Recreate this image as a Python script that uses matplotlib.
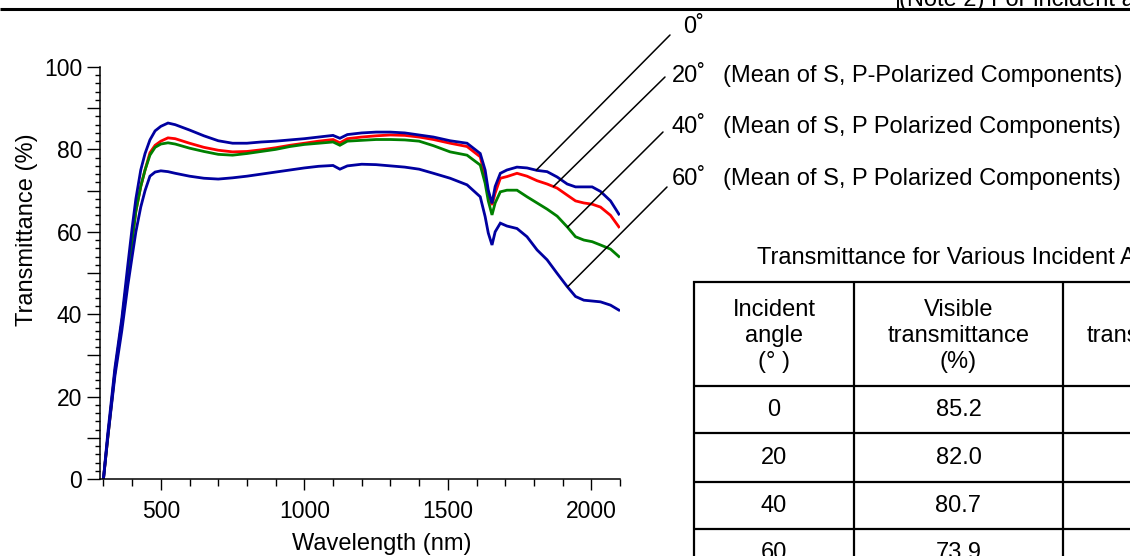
import numpy as np
import matplotlib
matplotlib.use("Agg")
import matplotlib.pyplot as plt
from matplotlib.ticker import MultipleLocator, FuncFormatter

plt.rcParams['font.family'] = ['Liberation Sans', 'DejaVu Sans']

# Spectral data
wavelength = [300, 315, 340, 364, 385, 400, 413, 430, 445, 462, 480, 500, 525, 550,
              600, 650, 700, 750, 800, 850, 900, 950, 1000, 1050, 1100, 1124, 1150,
              1200, 1250, 1300, 1350, 1400, 1450, 1508, 1567, 1613, 1630, 1641, 1654,
              1665, 1683, 1706, 1741, 1776, 1811, 1846, 1881, 1916, 1945, 1974, 2003,
              2032, 2067, 2096]
t_0 = [0, 11, 27, 39, 52, 61, 68, 75, 79, 82.3, 84.5, 85.6, 86.4, 86.0,
       84.7, 83.3, 82.1, 81.5, 81.5, 81.8, 82.0, 82.3, 82.6, 83.0, 83.4, 82.7, 83.6,
       84.0, 84.2, 84.2, 84.0, 83.5, 83.0, 82.1, 81.5, 79.0, 75.0, 70.1, 66.9,
       71.0, 74.2, 75.0, 75.7, 75.5, 74.9, 74.6, 73.3, 71.6, 70.9, 70.9, 70.9,
       69.8, 67.5, 64.3]
t_20 = [0, 10, 26, 38, 50, 58, 65, 71, 75, 79.2, 81.0, 82.0, 82.8, 82.6,
        81.5, 80.5, 79.8, 79.4, 79.5, 79.9, 80.4, 81.0, 81.5, 82.0, 82.4, 81.6, 82.6,
        83.0, 83.3, 83.5, 83.4, 83.0, 82.4, 81.5, 80.7, 78.2, 73.4, 69.5, 66.5,
        69.4, 73.0, 73.4, 74.2, 73.5, 72.4, 71.6, 70.6, 68.9, 67.5, 67.0, 66.7,
        66.0, 64.0, 61.2]
t_40 = [0, 10, 26, 38, 50, 58, 65, 71, 75, 78.6, 80.5, 81.3, 81.6, 81.3,
        80.3, 79.5, 78.8, 78.6, 79.0, 79.5, 80.0, 80.7, 81.2, 81.5, 81.8, 81.0, 82.0,
        82.2, 82.4, 82.4, 82.3, 82.0, 80.9, 79.4, 78.6, 76.2, 71.8, 67.5, 64.1,
        67.0, 69.7, 70.1, 70.1, 68.5, 67.0, 65.5, 63.8, 61.2, 58.8, 58.0, 57.6,
        56.8, 55.8, 54.0]
t_60 = [0, 10, 25, 36, 47, 54, 60, 66, 70, 73.5, 74.5, 74.8, 74.6, 74.2,
        73.5, 73.0, 72.8, 73.1, 73.5, 74.0, 74.5, 75.0, 75.5, 75.9, 76.1, 75.2, 76.0,
        76.4, 76.3, 76.0, 75.7, 75.2, 74.2, 73.0, 71.4, 68.5, 63.7, 59.7, 56.8,
        60.0, 62.1, 61.4, 60.8, 58.8, 55.6, 53.2, 49.9, 46.7, 44.3, 43.4, 43.2,
        43.0, 42.2, 41.0]

curve_labels = ["0˚", "20˚", "40˚", "60˚"]
curve_notes = ["", "(Mean of S, P-Polarized Components)",
               "(Mean of S, P Polarized Components)",
               "(Mean of S, P Polarized Components)"]
leader_wl = [1808, 1868, 1917, 1917]

# table
table_title = "Transmittance for Various Incident Angles"
col_headers = ["Incident\nangle\n(° )", "Visible\ntransmittance\n(%)", "Solar\ntransmittance\n(%)"]
row_angles = ["0", "20", "40", "60"]
row_visible = ["85.2", "82.0", "80.7", "73.9"]

W, H = 1130, 556
fig = plt.figure(figsize=(W / 100, H / 100), dpi=100)
ax = fig.add_axes([100 / W, 1 - 479 / H, 520 / W, 412 / H])

series = [t_0, t_20, t_40, t_60]
colors = ['#0000a0', '#ff0000', '#008000', '#0000a0']
for idx in [1, 2, 0, 3]:
    ax.plot(wavelength, series[idx], color=colors[idx], lw=2.0, solid_joinstyle='miter')

ax.set_xlim(288, 2100)
ax.set_ylim(0, 100)
ax.spines['top'].set_visible(False)
ax.spines['right'].set_visible(False)
for s in ['left', 'bottom']:
    ax.spines[s].set_linewidth(1.1)

ax.xaxis.set_major_locator(MultipleLocator(500))
ax.xaxis.set_minor_locator(MultipleLocator(100))
ax.yaxis.set_major_locator(MultipleLocator(10))
ax.yaxis.set_minor_locator(MultipleLocator(2))
ax.yaxis.set_major_formatter(FuncFormatter(lambda v, p: f"{int(v)}" if int(round(v)) % 20 == 0 else ""))
ax.tick_params(axis='x', which='major', length=7.7, width=1, pad=7.5, labelsize=16.5)
ax.tick_params(axis='x', which='minor', length=4.8, width=1)
ax.tick_params(axis='y', which='major', length=9.4, width=1, pad=3.5, labelsize=16.5)
ax.tick_params(axis='y', which='minor', length=3.6, width=1)

ax.set_xlabel("Wavelength (nm)", fontsize=17)
ax.set_ylabel("Transmittance (%)", fontsize=17)
ax.xaxis.set_label_coords(0.542, -0.131)
ax.yaxis.set_label_coords(-0.119, 0.604)

# leader lines from curves to labels
tops = [(670, 35), (665, 77), (663, 132), (667, 187)]
for s, wl, (tx, ty) in zip(series, leader_wl, tops):
    ax.annotate("", xy=(wl, np.interp(wl, wavelength, s)), xycoords='data',
                xytext=(tx, H - ty), textcoords='figure pixels',
                arrowprops=dict(arrowstyle='-', color='black', lw=1.1,
                                shrinkA=0, shrinkB=0),
                annotation_clip=False)

# overlay in pixel coordinates for text and table
ov = fig.add_axes([0, 0, 1, 1])
ov.set_xlim(0, W)
ov.set_ylim(H, 0)
ov.axis('off')
ov.patch.set_visible(False)

label_x = [683, 672, 672, 672]
label_base = [33, 82, 133, 185]
for lab, note, lx, ly in zip(curve_labels, curve_notes, label_x, label_base):
    ov.text(lx, ly, lab, fontsize=17, va='baseline', ha='left')
    if note:
        ov.text(723, ly, note, fontsize=17, va='baseline', ha='left')

# top rule and note
ov.plot([0, W], [8.5, 8.5], color='black', lw=2.2, solid_capstyle='butt')
ov.plot([897.5, 897.5], [0, 8.5], color='black', lw=1.4, solid_capstyle='butt')
ov.text(899, 6, "(Note 2) For incident angles", fontsize=17, va='baseline', ha='left')

# table
ov.text(757, 264, table_title, fontsize=17, va='baseline', ha='left')
col_edges = [694, 854, 1063]
row_edges = [282, 386, 433, 482, 529]
for y in row_edges:
    ov.plot([col_edges[0] - 1, W + 10], [y, y], color='black', lw=1.6, solid_capstyle='butt')
for x in col_edges:
    ov.plot([x, x], [row_edges[0] - 1, H + 10], color='black', lw=1.6, solid_capstyle='butt')

col_centers = [774, 958.5, 1158]
for cx, hdr in zip(col_centers, col_headers):
    ov.text(cx, 336, hdr, fontsize=17, ha='center', va='center', linespacing=1.22)

row_centers = [410, 458, 506, 553]
for cy, a, v in zip(row_centers, row_angles, row_visible):
    ov.text(col_centers[0], cy, a, fontsize=17, ha='center', va='center')
    ov.text(col_centers[1], cy, v, fontsize=17, ha='center', va='center')

fig.savefig("out.png", dpi=100)
